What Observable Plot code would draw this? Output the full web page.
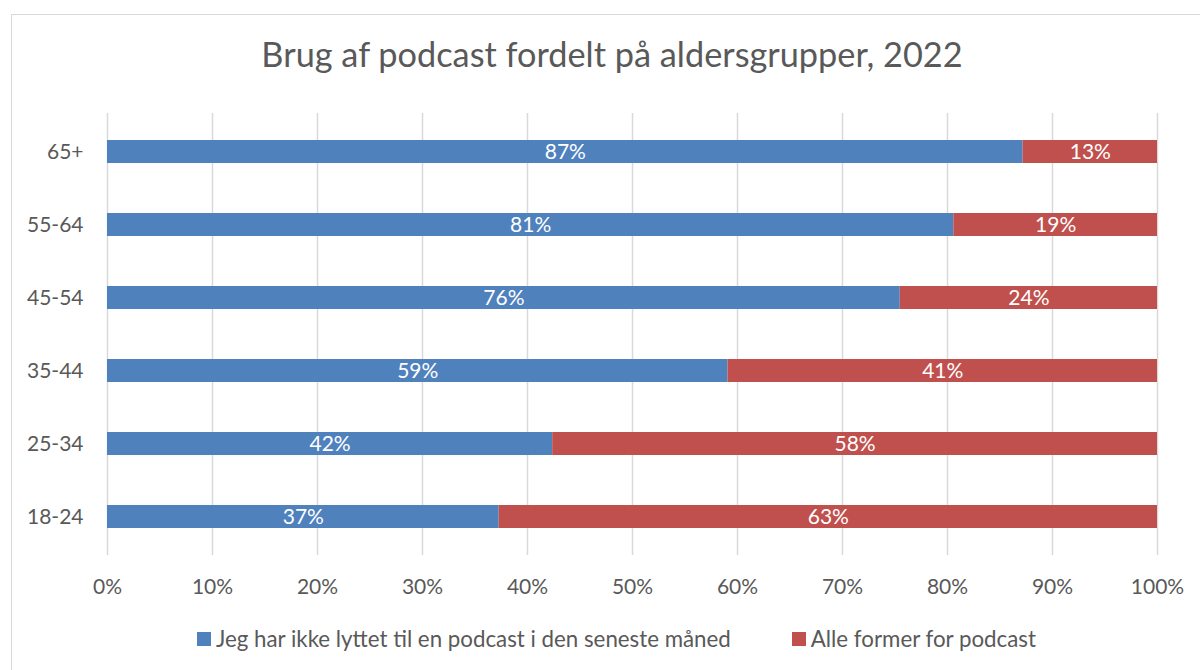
<!DOCTYPE html>
<html><head><meta charset="utf-8">
<script src="https://cdn.jsdelivr.net/npm/d3@7"></script>
<script src="https://cdn.jsdelivr.net/npm/@observablehq/plot@0.6"></script>
<style>
body{margin:0;background:#fff;font-family:Lato,"Open Sans",sans-serif;}
#frame{position:absolute;left:11px;top:14px;width:1200px;height:680px;border:1.5px solid #d9d9d9;box-sizing:border-box;}
#title{position:absolute;left:0;top:33px;width:1224px;text-align:center;font-size:34.3px;color:#595959;}
#chart{position:absolute;left:0;top:0;}
#legend{position:absolute;left:197px;top:625px;display:flex;gap:61px;font-size:22.3px;color:#595959;}
.item{display:flex;align-items:center;}
.sw{width:14px;height:14px;margin-right:5px;}
</style></head>
<body>
<div id="frame"></div>
<div id="chart"></div>
<div id="title">Brug af podcast fordelt på aldersgrupper, 2022</div>
<div id="legend"></div>
<script>
const ages = ["65+","55-64","45-54","35-44","25-34","18-24"];
const seriesNames = ["Jeg har ikke lyttet til en podcast i den seneste måned","Alle former for podcast"];
const notListened = [87.2, 80.6, 75.5, 59.1, 42.4, 37.3];
const allForms = [12.8, 19.4, 24.5, 40.9, 57.6, 62.7];
const dataLabels = [["87%","13%"],["81%","19%"],["76%","24%"],["59%","41%"],["42%","58%"],["37%","63%"]];
const xTicks = [0,10,20,30,40,50,60,70,80,90,100];
const colors = ["#4f81bd","#c0504d"];

const rows = [];
ages.forEach((a,i)=>{
  rows.push({age:a, series:seriesNames[0], value:notListened[i], label:dataLabels[i][0]});
  rows.push({age:a, series:seriesNames[1], value:allForms[i], label:dataLabels[i][1]});
});

const plot = Plot.plot({
  width:1200, height:600,
  marginLeft:107, marginRight:43, marginTop:113, marginBottom:45,
  style:{fontFamily:"Lato, 'Open Sans', sans-serif", fontSize:"21px", color:"#595959", background:"transparent"},
  x:{domain:[0,100]},
  y:{domain:ages, paddingInner:0.688, paddingOuter:0.344},
  color:{domain:seriesNames, range:colors},
  marks:[
    Plot.gridX(xTicks,{stroke:"#d9d9d9", strokeOpacity:1, strokeWidth:1.5}),
    Plot.axisX(xTicks,{tickSize:0, tickPadding:24, tickFormat:d=>d+"%", label:null, fill:"#595959", fontSize:21}),
    Plot.axisY({tickSize:0, tickPadding:24, label:null, fill:"#595959", fontSize:21}),
    Plot.barX(rows,{x:"value", y:"age", fill:"series"}),
    Plot.text(rows, Plot.stackX({x:"value", y:"age", z:"series", text:"label", fill:"white", fontSize:21}))
  ]
});
document.getElementById("chart").appendChild(plot);

const lg = document.getElementById("legend");
seriesNames.forEach((s,i)=>{
  const it = document.createElement("div"); it.className="item";
  const sw = document.createElement("div"); sw.className="sw"; sw.style.background=colors[i];
  const t = document.createElement("span"); t.textContent=s;
  it.appendChild(sw); it.appendChild(t); lg.appendChild(it);
});
</script>
</body></html>
